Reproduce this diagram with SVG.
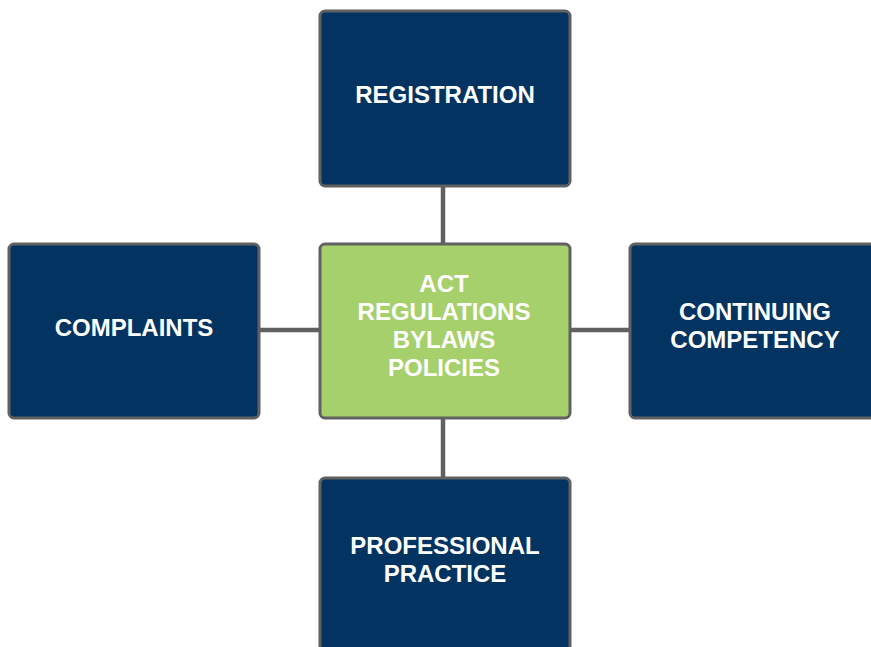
<svg xmlns="http://www.w3.org/2000/svg" width="871" height="647" viewBox="0 0 871 647">
<style>
.box{stroke:#616161;stroke-width:3}
.navy{fill:#033461}
.green{fill:#a5d06b}
.lbl{font-family:"Liberation Sans",Arial,sans-serif;font-weight:bold;font-size:24px;fill:#ffffff;text-anchor:middle}
.conn{stroke:#616161;stroke-width:4.5;fill:none}
</style>
<rect width="871" height="647" fill="#ffffff"/>
<g id="connectors">
<line class="conn" x1="443" y1="186" x2="443" y2="244"/>
<line class="conn" x1="443" y1="418" x2="443" y2="478"/>
<line class="conn" x1="260" y1="330" x2="320" y2="330"/>
<line class="conn" x1="570" y1="330" x2="630" y2="330"/>
</g>
<g id="registration">
<rect class="box navy" x="320" y="11" width="250" height="175" rx="5"/>
<text class="lbl" x="445" y="103">REGISTRATION</text>
</g>
<g id="center">
<rect class="box green" x="320" y="244" width="250" height="174" rx="5"/>
<text class="lbl" x="444" y="292">ACT</text>
<text class="lbl" x="444" y="320">REGULATIONS</text>
<text class="lbl" x="444" y="348">BYLAWS</text>
<text class="lbl" x="444" y="376">POLICIES</text>
</g>
<g id="complaints">
<rect class="box navy" x="9" y="244" width="250" height="174" rx="5"/>
<text class="lbl" x="134" y="336">COMPLAINTS</text>
</g>
<g id="continuing">
<rect class="box navy" x="630" y="244" width="250" height="174" rx="5"/>
<text class="lbl" x="755" y="320">CONTINUING</text>
<text class="lbl" x="755" y="348">COMPETENCY</text>
</g>
<g id="professional">
<rect class="box navy" x="320" y="478" width="250" height="175" rx="5"/>
<text class="lbl" x="445" y="554">PROFESSIONAL</text>
<text class="lbl" x="445" y="582">PRACTICE</text>
</g>
</svg>
